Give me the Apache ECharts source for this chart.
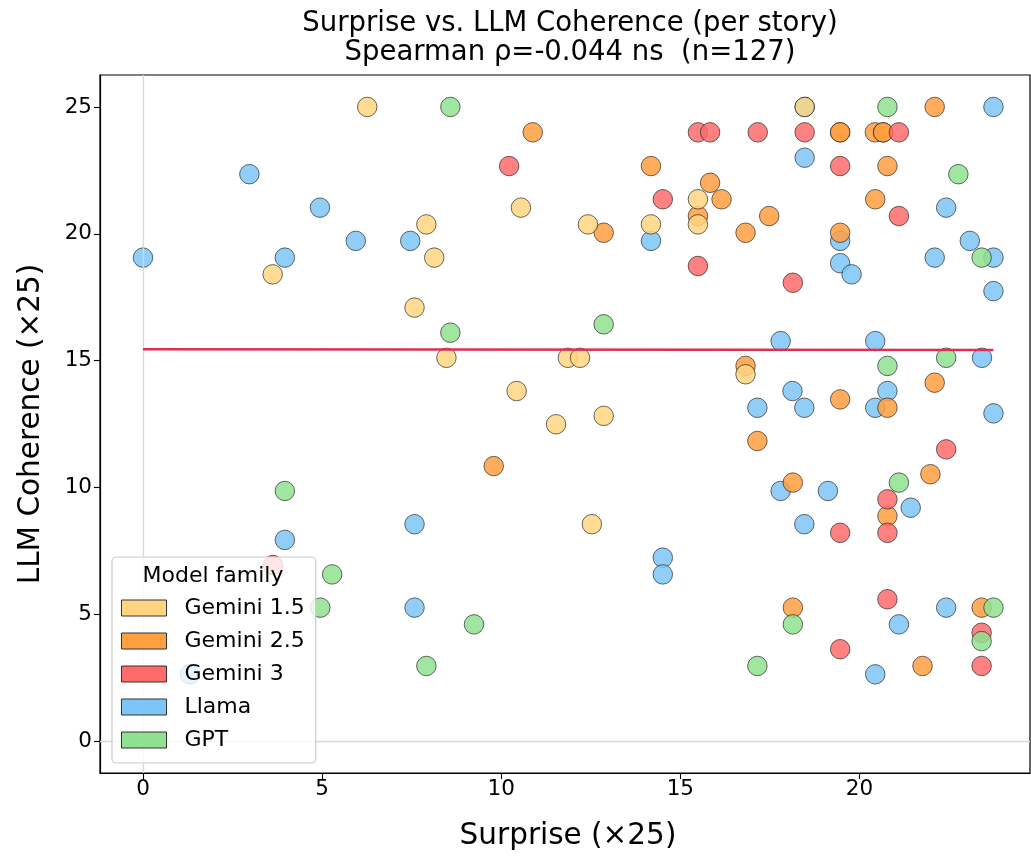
<!DOCTYPE html>
<html>
<head>
<meta charset="utf-8">
<script src="https://cdn.jsdelivr.net/npm/echarts@6/dist/echarts.min.js"></script>
<style>
html,body{margin:0;padding:0;background:#fff;}
#chart{width:1031px;height:859px;}
</style>
</head>
<body>
<div id="chart"></div>
<script>
// ---- data ----
var families = ['Gemini 1.5', 'Gemini 2.5', 'Gemini 3', 'Llama', 'GPT'];
var colors = ['#FFD580', '#FF9F40', '#FF6B6B', '#7CC6F7', '#8FE08F'];

var gemini15 = [[6.26,25],[7.91,20.37],[3.62,18.40],[7.58,17.09],[10.55,21.03],[8.13,19.06],[12.42,20.37],
  [15.49,21.36],[15.49,20.37],[14.18,20.37],[18.47,25],[8.47,15.11],[11.86,15.11],[12.20,15.11],
  [10.43,13.80],[11.53,12.49],[12.86,12.82],[12.53,8.55],[16.82,14.46]];
var gemini25 = [[10.88,24],[14.18,22.67],[12.86,20.04],[15.83,22.01],[16.15,21.36],[15.49,20.70],
  [19.46,24],[19.46,24],[20.43,24],[20.66,24],[20.66,24],[20.78,22.67],[17.48,20.70],[16.82,20.04],
  [20.44,21.36],[19.46,20.04],[22.10,25],[16.82,14.79],[22.10,14.13],[19.46,13.47],[20.78,13.14],
  [17.15,11.83],[21.98,10.52],[18.14,10.19],[20.78,8.87],[9.79,10.84],[18.14,5.26],[21.76,2.96],[23.41,5.26]];
var gemini3 = [[10.22,22.67],[15.49,24],[15.83,24],[14.51,21.36],[15.49,18.73],[17.16,24],[18.47,24],
  [21.10,24],[19.46,22.67],[21.10,20.70],[18.14,18.07],[22.42,11.50],[20.78,9.53],[19.46,8.21],
  [20.78,8.21],[3.63,6.94],[20.78,5.59],[19.46,3.62],[23.41,4.27],[23.41,2.96]];
var llama = [[2.97,22.35],[4.94,21.03],[5.94,19.72],[7.46,19.72],[0,19.06],[3.96,19.06],[14.18,19.72],
  [18.47,23.0],[23.74,25],[19.46,19.72],[19.46,18.84],[19.78,18.40],[22.10,19.06],[23.08,19.72],
  [23.74,19.06],[23.74,17.74],[22.42,21.03],[3.96,7.93],[7.58,8.55],[17.80,15.77],[20.44,15.77],
  [23.42,15.11],[18.13,13.80],[17.15,13.14],[18.46,13.14],[20.78,13.80],[20.44,13.14],[23.74,12.92],
  [17.80,9.86],[19.12,9.86],[21.43,9.20],[18.46,8.55],[1.31,2.63],[7.58,5.26],[14.51,7.23],
  [14.51,6.57],[21.10,4.60],[20.44,2.63],[22.42,5.26],[18.47,25]];
var gpt = [[8.58,25],[20.78,25],[22.76,22.35],[23.41,19.06],[8.58,16.10],[12.86,16.43],[22.42,15.11],
  [20.78,14.79],[21.10,10.19],[3.96,9.86],[5.28,6.57],[4.95,5.26],[9.24,4.60],[7.91,2.96],
  [18.14,4.60],[17.15,2.96],[23.74,5.26],[23.41,3.94]];

var regX = [0, 23.74];
var regY = [15.45, 15.42];

var xTicks = [0, 5, 10, 15, 20];
var yTicks = [0, 5, 10, 15, 20, 25];

var titleText = 'Surprise vs. LLM Coherence (per story)\nSpearman \u03c1=-0.044 ns  (n=127)';
var xName = 'Surprise (\u00d725)';
var yName = 'LLM Coherence (\u00d725)';
var legendTitle = 'Model family';

// ---- chart ----
var FONT = 'DejaVu Sans';
var chart = echarts.init(document.getElementById('chart'), null, {renderer: 'canvas'});

var dataByName = {
  'Gemini 1.5': gemini15, 'Gemini 2.5': gemini25, 'Gemini 3': gemini3, 'Llama': llama, 'GPT': gpt
};
// drawing order (bottom to top)
var drawOrder = ['Llama', 'Gemini 2.5', 'Gemini 3', 'GPT', 'Gemini 1.5'];

var series = drawOrder.map(function (name) {
  var ci = families.indexOf(name);
  return {
    name: name,
    type: 'scatter',
    data: dataByName[name],
    symbol: 'circle',
    symbolSize: 19.5,
    z: 3,
    itemStyle: {
      color: colors[ci],
      opacity: 0.85,
      borderColor: '#222',
      borderWidth: 0.8
    },
    emphasis: {disabled: true}
  };
});

series.unshift({
  type: 'line',
  name: 'zero',
  data: [],
  z: 1,
  silent: true,
  markLine: {
    silent: true,
    symbol: 'none',
    label: {show: false},
    lineStyle: {color: '#d9d9d9', width: 1.3, type: 'solid'},
    data: [{xAxis: 0}, {yAxis: 0}],
    animation: false
  }
});

series.push({
  type: 'line',
  name: 'trend',
  data: regX.map(function (x, i) { return [x, regY[i]]; }),
  symbol: 'none',
  z: 5,
  silent: true,
  lineStyle: {color: '#DC2F55', width: 2.6}
});

var option = {
  animation: false,
  backgroundColor: '#fff',
  textStyle: {fontFamily: FONT},
  grid: {
    left: 100, right: 1, top: 75, bottom: 86,
    show: true, borderColor: '#000', borderWidth: 1.2, backgroundColor: 'transparent'
  },
  xAxis: {
    type: 'value',
    min: -1.2, max: 24.76,
    name: xName,
    nameLocation: 'middle',
    nameGap: 48,
    nameTextStyle: {fontFamily: FONT, fontSize: 29.5, color: '#000', padding: [0, 0, 0, 6]},
    axisLine: {show: true, onZero: false, lineStyle: {color: '#000', width: 1.2}},
    axisTick: {show: true, customValues: xTicks, length: 6, lineStyle: {color: '#000', width: 1.1}},
    axisLabel: {customValues: xTicks, fontFamily: FONT, fontSize: 21.5, color: '#000', margin: 5},
    splitLine: {show: false}
  },
  yAxis: {
    type: 'value',
    min: -1.26, max: 26.26,
    name: yName,
    nameLocation: 'middle',
    nameGap: 54,
    nameRotate: 90,
    nameTextStyle: {fontFamily: FONT, fontSize: 29.5, color: '#000'},
    axisLine: {show: true, onZero: false, lineStyle: {color: '#000', width: 1.2}},
    axisTick: {show: true, customValues: yTicks, length: 6, lineStyle: {color: '#000', width: 1.1}},
    axisLabel: {customValues: yTicks, fontFamily: FONT, fontSize: 21.5, color: '#000', margin: 8},
    splitLine: {show: false}
  },
  legend: {
    data: families,
    orient: 'vertical',
    left: 112,
    top: 557,
    padding: [40, 11, 12, 9],
    itemWidth: 45,
    itemHeight: 16,
    itemGap: 11,
    icon: 'rect',
    selectedMode: false,
    backgroundColor: 'rgba(255,255,255,0.8)',
    borderColor: '#cccccc',
    borderWidth: 1.2,
    borderRadius: 4,
    itemStyle: {borderColor: '#333', borderWidth: 1, opacity: 1},
    textStyle: {fontFamily: FONT, fontSize: 22, lineHeight: 22, color: '#000', padding: [0, 0, 0, 13]},
    z: 10
  },
  graphic: [
    {
      type: 'text',
      x: 570, y: 9,
      z: 100,
      style: {
        text: titleText,
        font: '27.5px "DejaVu Sans"',
        fill: '#000',
        textAlign: 'center',
        textVerticalAlign: 'top',
        lineHeight: 29
      }
    },
    {
      type: 'text',
      x: 213, y: 565,
      z: 100,
      style: {
        text: legendTitle,
        font: '22px "DejaVu Sans"',
        fill: '#000',
        textAlign: 'center',
        textVerticalAlign: 'top'
      }
    }
  ],
  series: series
};
chart.setOption(option);
</script>
</body>
</html>
